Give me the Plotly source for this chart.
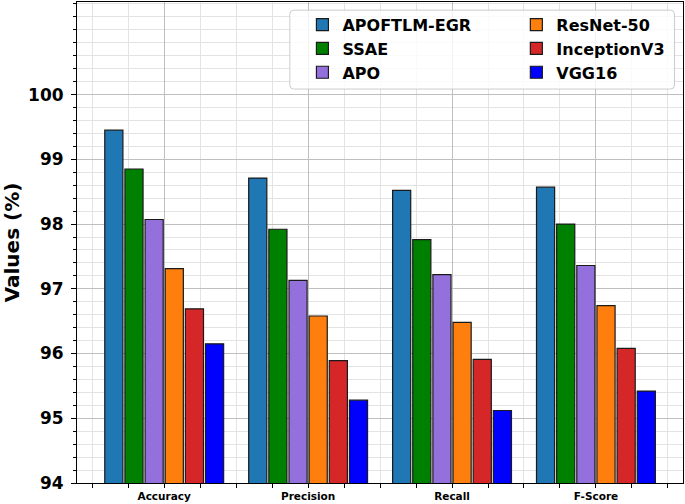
import plotly.graph_objects as go

categories = ["Accuracy", "Precision", "Recall", "F-Score"]
models = ["APOFTLM-EGR", "SSAE", "APO", "ResNet-50", "InceptionV3", "VGG16"]
apoftlm_egr = [99.45, 98.71, 98.52, 98.57]
ssae = [98.85, 97.92, 97.76, 98.00]
apo = [98.07, 97.13, 97.22, 97.36]
resnet50 = [97.31, 96.58, 96.48, 96.74]
inceptionv3 = [96.69, 95.89, 95.91, 96.08]
vgg16 = [96.15, 95.28, 95.12, 95.42]
y_ticks = [94, 95, 96, 97, 98, 99, 100]

series = [apoftlm_egr, ssae, apo, resnet50, inceptionv3, vgg16]
colors = ["#1f77b4", "#008000", "#9370db", "#ff7f0e", "#d62728", "#0000ff"]
legend_ids = ["legend", "legend", "legend", "legend2", "legend2", "legend2"]

xpos = list(range(len(categories)))
fig = go.Figure()
for name, vals, col, lg in zip(models, series, colors, legend_ids):
    fig.add_trace(go.Bar(
        x=xpos, y=vals, name=name, legend=lg, legendgroup=name,
        marker=dict(color=col, line=dict(color="#1a1a1a", width=1.2)),
    ))

font_fam = "DejaVu Sans"
legend_common = dict(
    bgcolor="rgba(0,0,0,0)", borderwidth=0, traceorder="grouped",
    tracegroupgap=0, yanchor="top", y=0.988,
    font=dict(family=font_fam, size=16, color="black", weight="bold"),
    itemwidth=30,
)

# legend frame (rounded rectangle, paper coords)
x0, x1, y0, y1 = 0.3512, 0.986, 0.819, 0.983
rx, ry = 0.0066, 0.0083
path = (f"M{x0+rx},{y0} L{x1-rx},{y0} Q{x1},{y0} {x1},{y0+ry} "
        f"L{x1},{y1-ry} Q{x1},{y1} {x1-rx},{y1} L{x0+rx},{y1} "
        f"Q{x0},{y1} {x0},{y1-ry} L{x0},{y0+ry} Q{x0},{y0} {x0+rx},{y0} Z")

fig.update_layout(
    width=685, height=504,
    margin=dict(l=77, r=1.5, t=2, b=21, autoexpand=False),
    paper_bgcolor="white", plot_bgcolor="white",
    barmode="group", bargap=0.16, bargroupgap=0.1,
    font=dict(family=font_fam, color="black"),
    showlegend=True,
    legend=dict(x=0.372, xanchor="left", **legend_common),
    legend2=dict(x=0.725, xanchor="left", **legend_common),
    shapes=[dict(type="path", path=path, xref="paper", yref="paper",
                 fillcolor="rgba(255,255,255,0.8)",
                 line=dict(color="#cccccc", width=1), layer="above")],
    xaxis=dict(
        range=[-0.606, 3.605], tickvals=xpos, ticktext=categories,
        ticks="outside", ticklen=3.5, tickcolor="black", tickwidth=1,
        tickfont=dict(family=font_fam, size=10.5, color="black", weight="bold"),
        showgrid=True, gridcolor="#bfbfbf", gridwidth=1,
        minor=dict(dtick=0.25, tick0=0, ticks="outside", ticklen=3.5,
                   tickcolor="black", showgrid=True, gridcolor="#e3e3e3", gridwidth=1),
        showline=True, linecolor="black", linewidth=1, mirror=True,
        zeroline=False, automargin=False,
    ),
    yaxis=dict(
        range=[94, 101.43], tickvals=y_ticks,
        ticks="outside", ticklen=5, tickcolor="black", tickwidth=1,
        ticklabelstandoff=4,
        tickfont=dict(family=font_fam, size=17, color="black", weight="bold"),
        showgrid=True, gridcolor="#bfbfbf", gridwidth=1,
        minor=dict(dtick=0.2, tick0=94, ticks="outside", ticklen=3,
                   tickcolor="black", showgrid=True, gridcolor="#e3e3e3", gridwidth=1),
        showline=True, linecolor="black", linewidth=1, mirror=True,
        zeroline=False, automargin=False,
        title=dict(text="Values (%)", standoff=4,
                   font=dict(family=font_fam, size=20, color="black", weight="bold")),
    ),
)

fig.write_html("out.html", config={"displayModeBar": False},
               post_script="document.body.style.margin='0';document.body.style.overflow='hidden';")
